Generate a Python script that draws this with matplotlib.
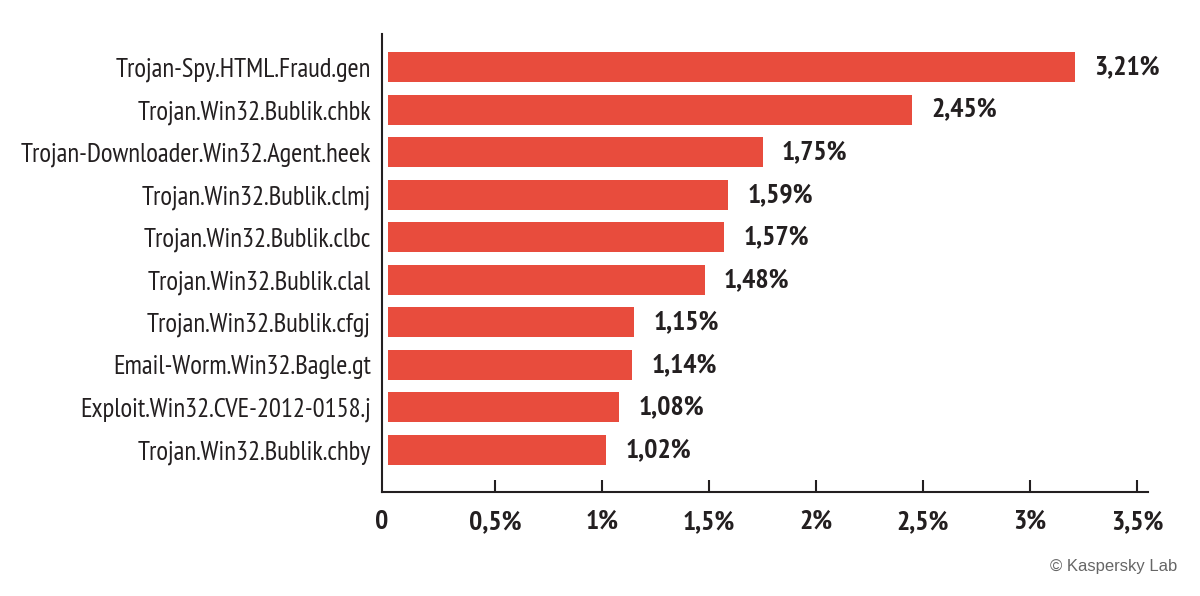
import matplotlib
matplotlib.use("Agg")
import matplotlib.pyplot as plt
import matplotlib.transforms as mtransforms

names = [
    "Trojan-Spy.HTML.Fraud.gen",
    "Trojan.Win32.Bublik.chbk",
    "Trojan-Downloader.Win32.Agent.heek",
    "Trojan.Win32.Bublik.clmj",
    "Trojan.Win32.Bublik.clbc",
    "Trojan.Win32.Bublik.clal",
    "Trojan.Win32.Bublik.cfgj",
    "Email-Worm.Win32.Bagle.gt",
    "Exploit.Win32.CVE-2012-0158.j",
    "Trojan.Win32.Bublik.chby",
]
shares = [3.21, 2.45, 1.75, 1.59, 1.57, 1.48, 1.15, 1.14, 1.08, 1.02]
ticks = [0, 0.5, 1, 1.5, 2, 2.5, 3, 3.5]
tick_labels = ["0", "0,5%", "1%", "1,5%", "2%", "2,5%", "3%", "3,5%"]

narrow = ["PT Sans Narrow", "DejaVu Sans"]
bar_color = "#e84c3d"
text_color = "#231f20"

fig = plt.figure(figsize=(12, 5.96), dpi=100)
ax = fig.add_axes([382 / 1200, 104 / 596, 766 / 1200, 458 / 596])

ypos = list(range(len(names)))
ax.barh(ypos, shares, height=0.7, color=bar_color)

for y, v in zip(ypos, shares):
    ax.text(v + 0.09, y, f"{v:.2f}%".replace(".", ","), va="center", ha="left",
            fontsize=20, fontweight="bold", family=narrow, color=text_color)

ax.set_yticks(ypos)
ax.set_yticklabels(names, family=narrow, fontsize=19.3, color=text_color)
ax.tick_params(axis="y", length=0, pad=8)

ax.set_xticks(ticks)
ax.set_xticklabels(tick_labels, family=narrow, fontsize=20, fontweight="bold", color=text_color)
ax.tick_params(axis="x", direction="in", length=8.5, width=1.5, color=text_color, pad=13)
ax.xaxis.get_major_ticks()[0].tick1line.set_visible(False)
# the "0" sits under the spine rather than under x=0
zero_lbl = ax.get_xticklabels()[0]
zero_lbl.set_transform(zero_lbl.get_transform() + mtransforms.ScaledTranslation(-6 / 100, 0, fig.dpi_scale_trans))

ax.set_xlim(-0.028, 3.551)
ax.set_ylim(len(names) - 1 + 0.99, -0.78)

for s in ["top", "right"]:
    ax.spines[s].set_visible(False)
for s in ["left", "bottom"]:
    ax.spines[s].set_linewidth(1.5)
    ax.spines[s].set_color(text_color)

fig.text(1177 / 1200, 1 - 566 / 596, "\u00a9 Kaspersky Lab", ha="right", va="center",
         fontsize=12, family="Liberation Sans", color="#666666")

fig.savefig("out.png", dpi=100)
